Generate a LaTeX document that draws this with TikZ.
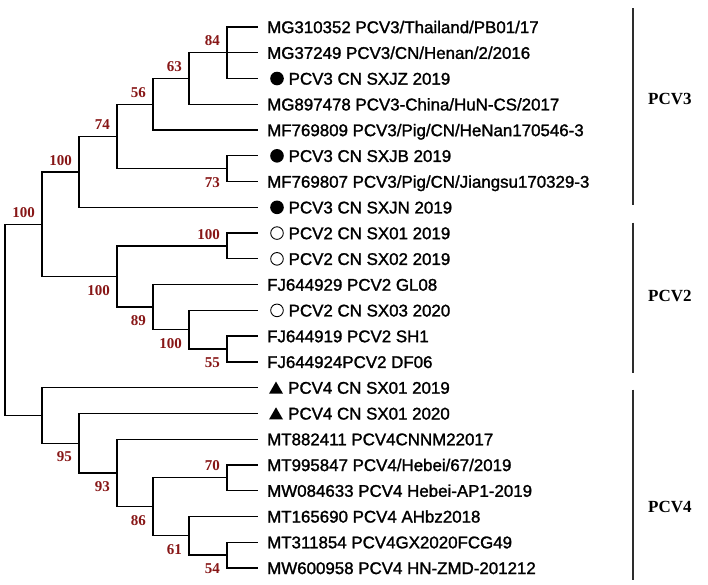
\documentclass[tikz,border=0pt]{standalone}
\usepackage{fontspec}
\setmainfont{Liberation Sans}
\newfontfamily\leaffont{Liberation Sans}[FakeBold=1.5]
\newfontfamily\tnr{Liberation Serif}
\usetikzlibrary{shapes.geometric}
\definecolor{bsred}{RGB}{135,22,22}
\definecolor{bargray}{RGB}{45,45,45}
\begin{document}
\begin{tikzpicture}[x=1pt,y=-1pt,
  br/.style={line width=1.3pt},
  leaf/.style={anchor=base west, inner sep=0pt, yshift=-6.1pt, font=\leaffont\fontsize{16.9}{20}\selectfont},
  bs/.style={anchor=east, inner sep=0pt, text=bsred, font=\tnr\bfseries\fontsize{15}{16}\selectfont},
  bsa/.style={bs, xshift=-7pt, yshift=11.8pt},
  bsb/.style={bs, xshift=-7pt, yshift=-13.8pt},
  fillc/.style={circle, fill=black, minimum size=13.6pt, inner sep=0pt},
  opc/.style={circle, draw=black, line width=0.9pt, minimum size=12.6pt, inner sep=0pt},
  tri/.style={regular polygon, regular polygon sides=3, fill=black, minimum size=16.2pt, inner sep=0pt, yshift=-2pt},
  bar/.style={line width=2.2pt, draw=bargray},
  clade/.style={anchor=west, inner sep=0pt, font=\tnr\bfseries\fontsize{17}{20}\selectfont}]
\useasboundingbox (0,0) rectangle (708,584);
% leaf ends
\coordinate (L1) at (258,27.00);
\coordinate (L2) at (258,52.76);
\coordinate (L3) at (258,78.52);
\coordinate (L4) at (258,104.28);
\coordinate (L5) at (258,130.04);
\coordinate (L6) at (258,155.80);
\coordinate (L7) at (258,181.56);
\coordinate (L8) at (258,207.32);
\coordinate (L9) at (258,233.08);
\coordinate (L10) at (258,258.84);
\coordinate (L11) at (258,284.60);
\coordinate (L12) at (258,310.36);
\coordinate (L13) at (258,336.12);
\coordinate (L14) at (258,361.88);
\coordinate (L15) at (258,387.64);
\coordinate (L16) at (258,413.40);
\coordinate (L17) at (258,439.16);
\coordinate (L18) at (258,464.92);
\coordinate (L19) at (258,490.68);
\coordinate (L20) at (258,516.44);
\coordinate (L21) at (258,542.20);
\coordinate (L22) at (258,567.96);
% internal nodes
\coordinate (n84) at (227,52.76);
\coordinate (n63) at (189,78.52);
\coordinate (n56) at (153,104.28);
\coordinate (n73) at (227,168.68);
\coordinate (n74) at (117,136.48);
\coordinate (n100a) at (79,171.90);
\coordinate (n100s1) at (227,245.96);
\coordinate (n55) at (227,349.00);
\coordinate (n100s3) at (189,329.68);
\coordinate (n89) at (153,307.14);
\coordinate (n100p2) at (117,276.55);
\coordinate (n100b) at (42,224.23);
\coordinate (n70) at (227,477.80);
\coordinate (n54) at (227,555.08);
\coordinate (n61) at (189,535.76);
\coordinate (n86) at (153,506.78);
\coordinate (n93) at (117,472.97);
\coordinate (n95) at (79,443.19);
\coordinate (nP4) at (42,415.41);
\coordinate (root) at (5,319.82);
% branches
\draw[br] (root) |- (n100b);
\draw[br] (root) |- (nP4);
\draw[br] (n100b) |- (n100a);
\draw[br] (n100b) |- (n100p2);
\draw[br] (n100a) |- (n74);
\draw[br] (n100a) |- (L8);
\draw[br] (n74) |- (n56);
\draw[br] (n74) |- (n73);
\draw[br] (n56) |- (n63);
\draw[br] (n56) |- (L5);
\draw[br] (n63) |- (n84);
\draw[br] (n63) |- (L4);
\draw[br] (n84) |- (L1);
\draw[br] (n84) -- (L2);
\draw[br] (n84) |- (L3);
\draw[br] (n73) |- (L6);
\draw[br] (n73) |- (L7);
\draw[br] (n100p2) |- (n100s1);
\draw[br] (n100p2) |- (n89);
\draw[br] (n100s1) |- (L9);
\draw[br] (n100s1) |- (L10);
\draw[br] (n89) |- (L11);
\draw[br] (n89) |- (n100s3);
\draw[br] (n100s3) |- (L12);
\draw[br] (n100s3) |- (n55);
\draw[br] (n55) |- (L13);
\draw[br] (n55) |- (L14);
\draw[br] (nP4) |- (L15);
\draw[br] (nP4) |- (n95);
\draw[br] (n95) |- (L16);
\draw[br] (n95) |- (n93);
\draw[br] (n93) |- (L17);
\draw[br] (n93) |- (n86);
\draw[br] (n86) |- (n70);
\draw[br] (n86) |- (n61);
\draw[br] (n70) |- (L18);
\draw[br] (n70) |- (L19);
\draw[br] (n61) |- (L20);
\draw[br] (n61) |- (n54);
\draw[br] (n54) |- (L21);
\draw[br] (n54) |- (L22);
% bootstrap values
\node[bsa] (b84) at (n84) {84};
\node[bsa] (b63) at (n63) {63};
\node[bsa] (b56) at (n56) {56};
\node[bsa] (b74) at (n74) {74};
\node[bsa] (b100a) at (n100a) {100};
\node[bsa] (b100b) at (n100b) {100};
\node[bsb] (b73) at (n73) {73};
\node[bsa] (b100s1) at (n100s1) {100};
\node[bsb] (b100p2) at (n100p2) {100};
\node[bsb] (b89) at (n89) {89};
\node[bsb] (b100s3) at (n100s3) {100};
\node[bsb] (b55) at (n55) {55};
\node[bsb] (b95) at (n95) {95};
\node[bsb] (b93) at (n93) {93};
\node[bsb] (b86) at (n86) {86};
\node[bsa] (b70) at (n70) {70};
\node[bsb] (b61) at (n61) {61};
\node[bsb] (b54) at (n54) {54};
% markers
\node[fillc] (m3) at (277,78.52) {};
\node[fillc] (m6) at (277,155.80) {};
\node[fillc] (m8) at (277,207.32) {};
\node[opc] (m9) at (277,233.08) {};
\node[opc] (m10) at (277,258.84) {};
\node[opc] (m12) at (277,310.36) {};
\node[tri] (m15) at (276,387.64) {};
\node[tri] (m16) at (276,413.40) {};
% leaf labels
\node[leaf] (t1) at (267,27.00) {MG310352 PCV3/Thailand/PB01/17};
\node[leaf] (t2) at (267,52.76) {MG37249 PCV3/CN/Henan/2/2016};
\node[leaf] (t3) at (288.5,78.52) {PCV3 CN SXJZ 2019};
\node[leaf] (t4) at (267,104.28) {MG897478 PCV3-China/HuN-CS/2017};
\node[leaf] (t5) at (267,130.04) {MF769809 PCV3/Pig/CN/HeNan170546-3};
\node[leaf] (t6) at (288.5,155.80) {PCV3 CN SXJB 2019};
\node[leaf] (t7) at (267,181.56) {MF769807 PCV3/Pig/CN/Jiangsu170329-3};
\node[leaf] (t8) at (288.5,207.32) {PCV3 CN SXJN 2019};
\node[leaf] (t9) at (288.5,233.08) {PCV2 CN SX01 2019};
\node[leaf] (t10) at (288.5,258.84) {PCV2 CN SX02 2019};
\node[leaf] (t11) at (267,284.60) {FJ644929 PCV2 GL08};
\node[leaf] (t12) at (288.5,310.36) {PCV2 CN SX03 2020};
\node[leaf] (t13) at (267,336.12) {FJ644919 PCV2 SH1};
\node[leaf] (t14) at (267,361.88) {FJ644924PCV2 DF06};
\node[leaf] (t15) at (288,387.64) {PCV4 CN SX01 2019};
\node[leaf] (t16) at (288,413.40) {PCV4 CN SX01 2020};
\node[leaf] (t17) at (267,439.16) {MT882411 PCV4CNNM22017};
\node[leaf] (t18) at (267,464.92) {MT995847 PCV4/Hebei/67/2019};
\node[leaf] (t19) at (267,490.68) {MW084633 PCV4 Hebei-AP1-2019};
\node[leaf] (t20) at (267,516.44) {MT165690 PCV4 AHbz2018};
\node[leaf] (t21) at (267,542.20) {MT311854 PCV4GX2020FCG49};
\node[leaf] (t22) at (267,567.96) {MW600958 PCV4 HN-ZMD-201212};
% clade bars
\coordinate (g3a) at (633,8);
\coordinate (g3b) at (633,205);
\coordinate (g2a) at (633,222.5);
\coordinate (g2b) at (633,373);
\coordinate (g4a) at (633,389.5);
\coordinate (g4b) at (633,580);
\draw[bar] (g3a) -- (g3b);
\draw[bar] (g2a) -- (g2b);
\draw[bar] (g4a) -- (g4b);
\node[clade] (c3) at (648,98.8) {PCV3};
\node[clade] (c2) at (648,296) {PCV2};
\node[clade] (c4) at (648,507) {PCV4};
\end{tikzpicture}
\end{document}
